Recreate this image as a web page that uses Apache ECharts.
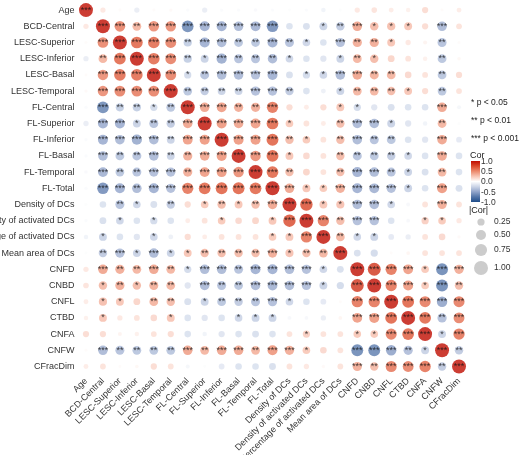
<!DOCTYPE html>
<html>
<head>
<meta charset="utf-8">
<title>Correlation matrix</title>
<script src="https://cdn.jsdelivr.net/npm/echarts@6/dist/echarts.min.js"></script>
<style>
  html, body { margin: 0; padding: 0; background: #fff; }
  #corr-chart { width: 520px; height: 455px; }
</style>
</head>
<body>
<div id="corr-chart"></div>
<script>
// 变量名
var varNames = ['Age', 'BCD-Central', 'LESC-Superior', 'LESC-Inferior', 'LESC-Basal', 'LESC-Temporal',
  'FL-Central', 'FL-Superior', 'FL-Inferior', 'FL-Basal', 'FL-Temporal', 'FL-Total',
  'Density of DCs', 'Density of activated DCs', 'Percentage of activated DCs', 'Mean area of DCs',
  'CNFD', 'CNBD', 'CNFL', 'CTBD', 'CNFA', 'CNFW', 'CFracDim'];

// 上三角相关系数 (第 i 行: 与第 i+1 .. 22 个变量)
var corUpper = [
  [0.12, 0.02, -0.12, 0.02, 0.03, -0.03, -0.12, -0.03, -0.03, -0.04, -0.03, -0.02, -0.03, -0.08, -0.02, 0.12, 0.14, 0.10, 0.08, 0.18, 0.02, 0.10],
  [0.58, 0.38, 0.55, 0.55, -0.70, -0.50, -0.50, -0.45, -0.48, -0.68, -0.20, -0.22, -0.30, -0.35, 0.45, 0.35, 0.33, 0.30, 0.18, -0.45, 0.15],
  [0.70, 0.68, 0.60, -0.33, -0.50, -0.45, -0.38, -0.38, -0.50, -0.40, -0.28, -0.20, -0.42, 0.42, 0.42, 0.30, 0.12, 0.06, -0.40, 0.02],
  [0.68, 0.60, -0.33, -0.30, -0.52, -0.40, -0.40, -0.45, -0.28, -0.20, -0.18, -0.30, 0.38, 0.35, 0.22, 0.15, 0.08, -0.38, 0.04],
  [0.60, -0.25, -0.40, -0.45, -0.45, -0.42, -0.50, -0.22, -0.25, -0.28, -0.45, 0.45, 0.40, 0.38, 0.20, 0.15, -0.38, 0.18],
  [-0.38, -0.35, -0.30, -0.30, -0.42, -0.42, -0.35, -0.20, -0.10, -0.30, 0.38, 0.38, 0.35, 0.30, 0.18, -0.38, 0.15],
  [0.45, 0.48, 0.42, 0.42, 0.65, 0.18, 0.10, 0.18, 0.30, -0.25, -0.18, -0.22, -0.20, -0.20, 0.45, -0.06],
  [0.50, 0.45, 0.48, 0.70, 0.28, 0.15, 0.10, 0.35, -0.45, -0.45, -0.30, -0.18, -0.08, 0.38, -0.02],
  [0.50, 0.50, 0.72, 0.35, 0.28, 0.15, 0.35, -0.45, -0.40, -0.38, -0.20, -0.18, 0.45, -0.15],
  [0.55, 0.72, 0.30, 0.20, 0.15, 0.35, -0.40, -0.38, -0.35, -0.28, -0.20, 0.45, -0.20],
  [0.70, 0.35, 0.22, 0.15, 0.35, -0.50, -0.45, -0.40, -0.30, -0.22, 0.38, -0.20],
  [0.45, 0.30, 0.28, 0.42, -0.50, -0.48, -0.42, -0.30, -0.20, 0.50, -0.22],
  [0.78, 0.30, 0.32, -0.45, -0.45, -0.28, -0.05, 0.15, 0.42, 0.15],
  [0.65, 0.35, -0.42, -0.42, -0.20, -0.05, 0.25, 0.28, 0.12],
  [0.38, -0.28, -0.30, -0.15, -0.12, 0.15, 0.20, 0.03],
  [-0.22, -0.25, 0.02, 0.05, 0.15, 0.15, 0.15],
  [0.85, 0.65, 0.48, 0.28, -0.72, 0.42],
  [0.65, 0.50, 0.28, -0.72, 0.35],
  [0.72, 0.62, -0.55, 0.62],
  [0.70, -0.42, 0.60],
  [-0.30, 0.65],
  [-0.35]
];

// 上三角显著性星号个数 (0: 无, 1: p<0.05, 2: p<0.01, 3: p<0.001)
var sigUpper = [
  [0, 0, 0, 0, 0, 0, 0, 0, 0, 0, 0, 0, 0, 0, 0, 0, 0, 0, 0, 0, 0, 0],
  [3, 2, 3, 3, 3, 3, 3, 3, 3, 3, 0, 0, 1, 2, 3, 1, 1, 1, 0, 3, 0],
  [3, 3, 3, 2, 3, 3, 2, 2, 3, 2, 1, 0, 3, 2, 2, 1, 0, 0, 2, 0],
  [3, 3, 2, 1, 3, 2, 2, 2, 1, 0, 0, 1, 2, 1, 0, 0, 0, 2, 0],
  [3, 1, 2, 3, 3, 3, 3, 0, 1, 1, 3, 3, 2, 2, 0, 0, 2, 0],
  [2, 2, 2, 2, 3, 3, 2, 0, 0, 1, 2, 2, 2, 1, 0, 2, 0],
  [3, 3, 2, 2, 3, 0, 0, 0, 1, 1, 0, 0, 0, 0, 3, 0],
  [3, 3, 3, 3, 1, 0, 0, 2, 3, 3, 1, 0, 0, 2, 0],
  [3, 3, 3, 2, 1, 0, 2, 3, 2, 2, 0, 0, 3, 0],
  [3, 3, 1, 0, 0, 2, 2, 2, 2, 1, 0, 3, 0],
  [3, 2, 0, 0, 2, 3, 3, 2, 1, 0, 2, 0],
  [3, 1, 1, 3, 3, 3, 3, 1, 0, 3, 0],
  [3, 1, 1, 3, 3, 1, 0, 0, 3, 0],
  [3, 2, 3, 3, 0, 0, 1, 1, 0],
  [2, 1, 1, 0, 0, 0, 0, 0],
  [0, 0, 0, 0, 0, 0, 0],
  [3, 3, 3, 1, 3, 3],
  [3, 3, 1, 3, 2],
  [3, 3, 3, 3],
  [3, 2, 3],
  [1, 3],
  [2]
];

// 图例
var corTicks = ['1.0', '0.5', '0.0', '-0.5', '-1.0'];
var sizeTicks = [0.25, 0.50, 0.75, 1.00];
var sigLabels = ['* p < 0.05', '** p < 0.01', '*** p < 0.001'];

// 颜色 (-1 → 1)
var corColors = ['#1f4d8a', '#5274a8', '#91a4ca', '#cbd4e7', '#ffffff', '#f8c6b6', '#ec8a6d', '#db4a2a', '#bf0d00'];

var corrChart = echarts.init(document.getElementById('corr-chart'));

// 圆点直径
function dotSize(r) {
  return Math.sqrt(5 + 190 * Math.abs(r));
}

// 组装完整矩阵数据
function buildData() {
  var n = varNames.length, data = [], i, j, r, s;
  for (i = 0; i < n; i++) {
    for (j = 0; j < n; j++) {
      if (i === j) {
        r = 1; s = 3;
      } else if (i < j) {
        r = corUpper[i][j - i - 1]; s = sigUpper[i][j - i - 1];
      } else {
        r = corUpper[j][i - j - 1]; s = sigUpper[j][i - j - 1];
      }
      data.push([j, i, r, new Array(s + 1).join('*')]);
    }
  }
  return data;
}

// 右侧图例
function buildLegend() {
  var els = [], top = 161, barH = 41, font = 'Liberation Sans';

  // 显著性说明
  sigLabels.forEach(function (t, k) {
    els.push({ type: 'text', left: 471, top: 98 + k * 18, style: { text: t, fontFamily: font, fontSize: 8.5, fill: '#222' } });
  });

  // 颜色条
  els.push({ type: 'text', left: 470, top: 151, style: { text: 'Cor', fontFamily: font, fontSize: 9, fill: '#222' } });
  els.push({
    type: 'rect', left: 471, top: top,
    shape: { width: 9, height: barH },
    style: {
      fill: new echarts.graphic.LinearGradient(0, 0, 0, 1, corColors.slice().reverse().map(function (c, k) {
        return { offset: k / (corColors.length - 1), color: c };
      }))
    }
  });
  corTicks.forEach(function (t, k) {
    els.push({ type: 'text', left: 481, top: top - 4 + k * barH / 4, style: { text: t, fontFamily: font, fontSize: 8.5, fill: '#333' } });
  });

  // 大小图例
  els.push({ type: 'text', left: 469, top: 206, style: { text: '|Cor|', fontFamily: font, fontSize: 9, fill: '#222' } });
  var ys = [222, 235, 250, 268];
  sizeTicks.forEach(function (v, k) {
    els.push({ type: 'circle', shape: { cx: 481, cy: ys[k], r: dotSize(v) / 2 }, style: { fill: '#cccccc' } });
    els.push({ type: 'text', left: 494, top: ys[k] - 5, style: { text: v.toFixed(2), fontFamily: font, fontSize: 8.5, fill: '#333' } });
  });
  return els;
}

var option = {
  animation: false,
  textStyle: { fontFamily: 'Liberation Sans' },
  grid: { left: 77.5, top: 2, width: 390, height: 372.6, containLabel: false, outerBoundsMode: 'none' },
  xAxis: {
    type: 'category',
    data: varNames,
    axisLine: { show: false },
    axisTick: { show: false },
    splitLine: { show: false },
    axisLabel: { rotate: 45, interval: 0, fontSize: 9, color: '#333', margin: 5 }
  },
  yAxis: {
    type: 'category',
    data: varNames,
    inverse: true,
    axisLine: { show: false },
    axisTick: { show: false },
    splitLine: { show: false },
    axisLabel: { interval: 0, fontSize: 9, color: '#333', margin: 3 }
  },
  visualMap: {
    show: false,
    type: 'continuous',
    min: -1,
    max: 1,
    dimension: 2,
    inRange: { color: corColors }
  },
  series: [{
    type: 'scatter',
    data: buildData(),
    symbolSize: function (val) { return dotSize(val[2]); },
    label: {
      show: true,
      position: 'inside',
      formatter: function (p) { return p.value[3]; },
      fontSize: 9,
      color: '#111',
      fontFamily: 'Liberation Sans'
    }
  }],
  graphic: buildLegend()
};

corrChart.setOption(option);
</script>
</body>
</html>
